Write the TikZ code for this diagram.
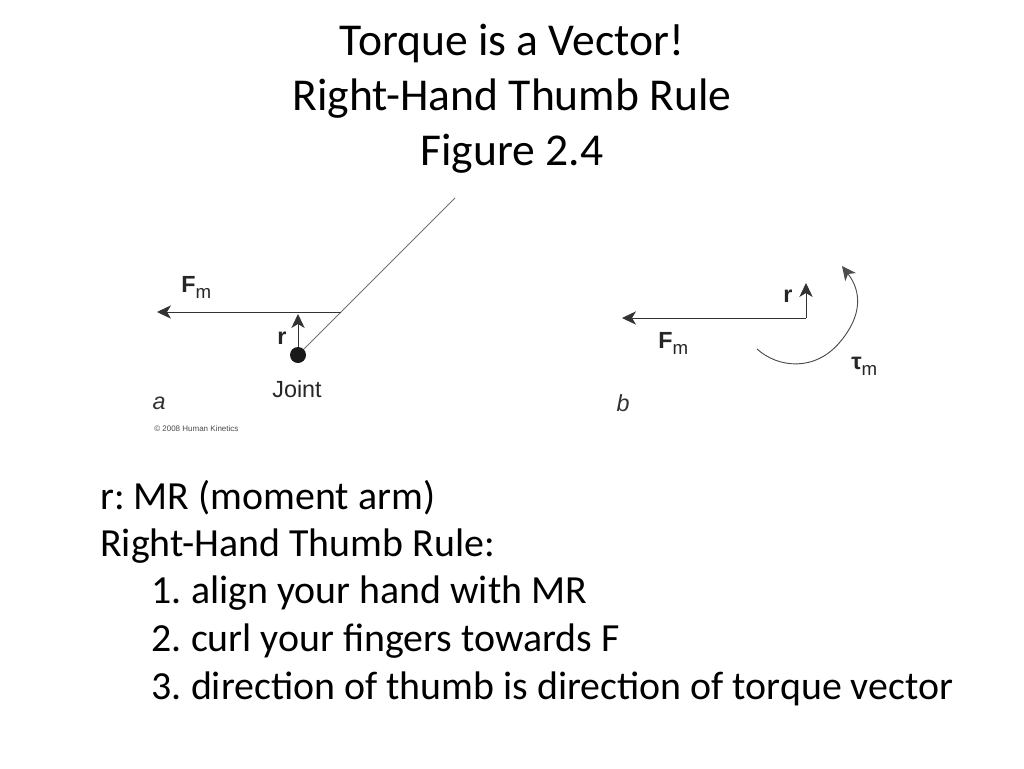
\documentclass[tikz,border=0pt]{standalone}
\usepackage{fontspec}
\setmainfont{Carlito}
\newfontfamily\figfont{Liberation Sans}
\usetikzlibrary{arrows.meta,positioning}
\newcommand{\subm}{\raisebox{-4.5pt}{\fontsize{14}{16}\selectfont m}}
\tikzset{
  slidetitle/.style={font=\fontsize{34.2}{41.2}\selectfont, align=center, text=black, inner sep=0pt},
  bodyline/.style={font=\fontsize{29.9}{36}\selectfont\frenchspacing, anchor=west, text=black, inner sep=0pt},
  figlabel/.style={font=\fontsize{17.5}{20}\figfont, text=black!85, inner sep=0pt},
  panel/.style={font=\fontsize{17.5}{20}\figfont\itshape, text=black!80, inner sep=0pt},
  credit/.style={font=\fontsize{6}{7}\figfont, text=black!70, inner sep=0pt},
  vec/.style={-{Stealth[length=10.5pt,width=10pt,inset=3pt]}, line width=0.7pt, black!80},
  lever/.style={line width=0.6pt, black!55},
  pivot/.style={circle, fill=black!90, minimum size=12pt, inner sep=0pt},
}
\begin{document}
\begin{tikzpicture}[x=0.75pt,y=-0.75pt]
  \useasboundingbox (0,0) rectangle (1024,768);
  \fill[white] (0,0) rectangle (1024,768);

  % Title
  \node[slidetitle] (title) at (512,99) {Torque is a Vector!\\Right-Hand Thumb Rule\\Figure 2.4};

  % Panel a
  \node[pivot] (joint) at (298,355) {};
  \coordinate (leverend) at (455,198);
  \coordinate (bend) at (341,312);
  \coordinate (tipa) at (157,312);
  \coordinate (rtipa) at (298,314);
  \draw[lever] (joint) -- (leverend);
  \draw[vec] (bend) -- (tipa);
  \draw[vec] (joint) -- (rtipa);
  \node[figlabel, anchor=base west] (fma) at (181,292) {\textbf{F}\subm};
  \node[figlabel] (ra) at (282,338) {\textbf{r}};
  \node[figlabel] (jointlabel) at (297,389) {Joint};
  \node[panel] (a) at (159,403) {a};
  \node[credit, anchor=west] (copy) at (154,429) {© 2008 Human Kinetics};

  % Panel b
  \coordinate (origin) at (806,318);
  \coordinate (tipb) at (622,318);
  \coordinate (rtipb) at (806,283);
  \coordinate (arcstart) at (757,349);
  \coordinate (arcend) at (842,266);
  \draw[vec] (origin) -- (tipb);
  \draw[vec] (origin) -- (rtipb);
  \draw[vec, black!70] (arcstart) .. controls (778,368) and (815,372) .. (840,342)
    .. controls (862,316) and (862,292) .. (arcend);
  \node[figlabel, anchor=base west] (fmb) at (658,348) {\textbf{F}\subm};
  \node[figlabel] (rb) at (788,296) {\textbf{r}};
  \node[figlabel, anchor=base west] (taum) at (851,369) {\textbf{τ}\subm};
  \node[panel] (b) at (623,403) {b};

  % Notes below the figure
  \node[bodyline] (arm) at (100,498) {r: MR (moment arm)};
  \node[bodyline] (rule) at (100,546) {Right-Hand Thumb Rule:};
  \node[bodyline] (one) at (151.5,593) {1. align your hand with MR};
  \node[bodyline] (two) at (151.5,641) {2. curl your fingers towards F};
  \node[bodyline] (three) at (151.5,689) {3. direction of thumb is direction of torque vector};
\end{tikzpicture}
\end{document}
